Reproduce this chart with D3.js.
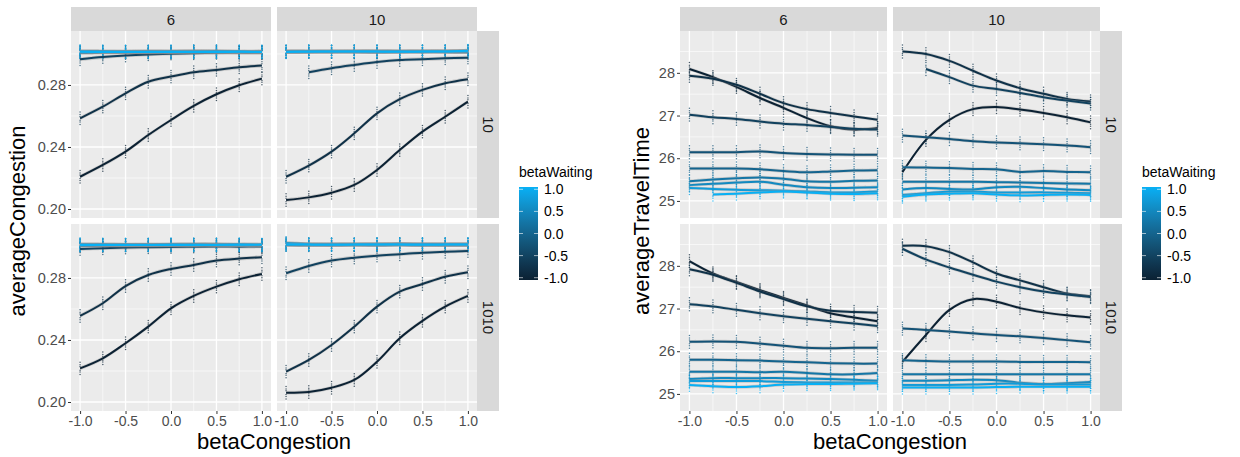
<!DOCTYPE html>
<html>
<head>
<meta charset="utf-8">
<script src="https://cdn.jsdelivr.net/npm/d3@7"></script>
<style>
  body { margin: 0; background: #fff; }
  svg text { font-family: "Liberation Sans", Arial, sans-serif; }
</style>
</head>
<body>
<div id="chart"></div>
<script>
// x positions (betaCongestion) and groups (betaWaiting)
const xValues = [-1, -0.75, -0.5, -0.25, 0, 0.25, 0.5, 0.75, 1];
const betaWaiting = [-1, -0.75, -0.5, -0.25, 0, 0.25, 0.5, 0.75, 1];
const colLabels = ['6', '10'];
const rowLabels = ['10', '1010'];
const xTicks = [-1, -0.5, 0, 0.5, 1];
const xMinor = [-0.75, -0.25, 0.25, 0.75];
const congestionTicks = [0.20, 0.24, 0.28];
const congestionMinor = [0.22, 0.26, 0.30];
const travelTicks = [25, 26, 27, 28];
const travelMinor = [25.5, 26.5, 27.5, 28.5];
const legendBreaks = [1, 0.5, 0, -0.5, -1];
// vertical scatter of the raw runs around each smooth, as fractions of the spread
const spreadOffsets = [-1, -0.6, -0.3, 0.3, 0.6, 1];

// averageCongestion, one row per betaWaiting (-1 ... 1)
const congestionR10C6 = [
  [0.2208, 0.2284, 0.2370, 0.2477, 0.2574, 0.2665, 0.2740, 0.2798, 0.2841],
  [0.2585, 0.2660, 0.2746, 0.2821, 0.2854, 0.2882, 0.2897, 0.2914, 0.2925],
  [0.2966, 0.2980, 0.2990, 0.2997, 0.3002, 0.3005, 0.3007, 0.3008, 0.3009],
  [0.3007, 0.3009, 0.3010, 0.3009, 0.3009, 0.3011, 0.3010, 0.3009, 0.3009],
  [0.3012, 0.3013, 0.3012, 0.3013, 0.3012, 0.3014, 0.3015, 0.3012, 0.3012],
  [0.3016, 0.3015, 0.3014, 0.3016, 0.3015, 0.3018, 0.3017, 0.3014, 0.3015],
  [0.3010, 0.3012, 0.3014, 0.3016, 0.3015, 0.3016, 0.3013, 0.3012, 0.3016],
  [0.3018, 0.3017, 0.3016, 0.3015, 0.3017, 0.3016, 0.3018, 0.3017, 0.3014],
  [0.3014, 0.3012, 0.3013, 0.3012, 0.3013, 0.3013, 0.3012, 0.3014, 0.3012]
];
const congestionR10C10 = [
  [0.2058, 0.2075, 0.2105, 0.2155, 0.2252, 0.2380, 0.2499, 0.2595, 0.2692],
  [0.2208, 0.2280, 0.2370, 0.2488, 0.2617, 0.2708, 0.2768, 0.2811, 0.2837],
  [null,   0.2882, 0.2908, 0.2929, 0.2948, 0.2961, 0.2966, 0.2972, 0.2976],
  [0.3011, 0.3012, 0.3013, 0.3012, 0.3011, 0.3012, 0.3013, 0.3012, 0.3011],
  [0.3015, 0.3014, 0.3013, 0.3015, 0.3014, 0.3015, 0.3016, 0.3015, 0.3014],
  [0.3018, 0.3017, 0.3016, 0.3017, 0.3018, 0.3017, 0.3018, 0.3019, 0.3020],
  [0.3014, 0.3015, 0.3016, 0.3017, 0.3016, 0.3015, 0.3014, 0.3016, 0.3018],
  [0.3016, 0.3017, 0.3016, 0.3015, 0.3016, 0.3017, 0.3016, 0.3015, 0.3016],
  [0.3013, 0.3014, 0.3015, 0.3016, 0.3015, 0.3014, 0.3015, 0.3016, 0.3021]
];
const congestionR1010C6 = [
  [0.2217, 0.2282, 0.2379, 0.2486, 0.2604, 0.2684, 0.2744, 0.2792, 0.2826],
  [0.2555, 0.2637, 0.2748, 0.2819, 0.2858, 0.2884, 0.2912, 0.2925, 0.2934],
  [0.2987, 0.2992, 0.2996, 0.2998, 0.3000, 0.3002, 0.3003, 0.3002, 0.3003],
  [0.3007, 0.3008, 0.3009, 0.3009, 0.3008, 0.3009, 0.3010, 0.3009, 0.3008],
  [0.3012, 0.3011, 0.3012, 0.3013, 0.3012, 0.3014, 0.3016, 0.3012, 0.3011],
  [0.3016, 0.3015, 0.3014, 0.3016, 0.3014, 0.3015, 0.3016, 0.3014, 0.3015],
  [0.3010, 0.3012, 0.3014, 0.3013, 0.3015, 0.3016, 0.3012, 0.3011, 0.3013],
  [0.3017, 0.3016, 0.3015, 0.3014, 0.3017, 0.3016, 0.3015, 0.3017, 0.3013],
  [0.3013, 0.3012, 0.3013, 0.3012, 0.3013, 0.3012, 0.3013, 0.3014, 0.3015]
];
const congestionR1010C10 = [
  [0.2060, 0.2065, 0.2092, 0.2142, 0.2260, 0.2411, 0.2523, 0.2615, 0.2684],
  [0.2196, 0.2271, 0.2368, 0.2486, 0.2615, 0.2712, 0.2761, 0.2808, 0.2837],
  [0.2830, 0.2877, 0.2912, 0.2931, 0.2944, 0.2953, 0.2963, 0.2969, 0.2974],
  [0.3012, 0.3011, 0.3011, 0.3012, 0.3011, 0.3012, 0.3011, 0.3011, 0.3011],
  [0.3018, 0.3016, 0.3015, 0.3016, 0.3017, 0.3018, 0.3016, 0.3015, 0.3015],
  [0.3023, 0.3019, 0.3017, 0.3016, 0.3017, 0.3020, 0.3018, 0.3017, 0.3017],
  [0.3012, 0.3014, 0.3016, 0.3017, 0.3016, 0.3016, 0.3015, 0.3017, 0.3017],
  [0.3025, 0.3018, 0.3016, 0.3015, 0.3016, 0.3018, 0.3019, 0.3017, 0.3016],
  [0.3016, 0.3015, 0.3014, 0.3015, 0.3016, 0.3015, 0.3014, 0.3015, 0.3016]
];

// averageTravelTime, one row per betaWaiting (-1 ... 1)
const travelR10C6 = [
  [28.09, 27.90, 27.67, 27.41, 27.18, 26.94, 26.75, 26.67, 26.71],
  [27.93, 27.86, 27.72, 27.51, 27.29, 27.15, 27.06, 26.98, 26.90],
  [27.02, 26.96, 26.92, 26.86, 26.81, 26.78, 26.73, 26.69, 26.67],
  [26.14, 26.14, 26.14, 26.16, 26.12, 26.10, 26.09, 26.08, 26.08],
  [25.76, 25.76, 25.76, 25.74, 25.70, 25.67, 25.69, 25.71, 25.72],
  [25.46, 25.50, 25.53, 25.55, 25.52, 25.46, 25.45, 25.47, 25.48],
  [25.37, 25.40, 25.43, 25.45, 25.38, 25.32, 25.30, 25.31, 25.32],
  [25.30, 25.28, 25.26, 25.25, 25.24, 25.22, 25.20, 25.20, 25.22],
  [null,  25.15, 25.17, 25.20, 25.22, 25.20, 25.17, 25.16, 25.18]
];
const travelR10C10 = [
  [25.67, 26.43, 26.90, 27.15, 27.20, 27.14, 27.06, 26.96, 26.84],
  [28.50, 28.44, 28.28, 28.05, 27.82, 27.64, 27.51, 27.39, 27.33],
  [null,  28.09, 27.90, 27.70, 27.62, 27.53, 27.43, 27.35, 27.28],
  [26.53, 26.49, 26.45, 26.40, 26.37, 26.35, 26.33, 26.30, 26.26],
  [25.79, 25.78, 25.77, 25.75, 25.74, 25.68, 25.70, 25.68, 25.67],
  [25.45, 25.45, 25.45, 25.45, 25.44, 25.43, 25.42, 25.41, 25.40],
  [25.27, 25.30, 25.28, 25.27, 25.32, 25.33, 25.30, 25.27, 25.25],
  [25.14, 25.18, 25.22, 25.22, 25.20, 25.20, 25.20, 25.19, 25.18],
  [25.10, 25.15, 25.17, 25.18, 25.15, 25.13, 25.14, 25.15, 25.14]
];
const travelR1010C6 = [
  [28.11, 27.82, 27.62, 27.43, 27.25, 27.07, 26.89, 26.79, 26.70],
  [27.92, 27.79, 27.60, 27.40, 27.22, 27.05, 26.95, 26.92, 26.90],
  [27.10, 27.05, 26.97, 26.89, 26.82, 26.76, 26.70, 26.65, 26.59],
  [26.22, 26.23, 26.22, 26.18, 26.13, 26.08, 26.07, 26.08, 26.08],
  [25.80, 25.80, 25.79, 25.78, 25.76, 25.74, 25.72, 25.71, 25.71],
  [25.52, 25.52, 25.52, 25.51, 25.52, 25.49, 25.46, 25.46, 25.49],
  [25.35, 25.37, 25.37, 25.37, 25.37, 25.36, 25.35, 25.33, 25.31],
  [25.30, 25.30, 25.30, 25.30, 25.28, 25.27, 25.27, 25.27, 25.27],
  [25.21, 25.18, 25.16, 25.18, 25.22, 25.23, 25.23, 25.24, 25.25]
];
const travelR1010C10 = [
  [25.75, 26.38, 26.97, 27.22, 27.16, 27.01, 26.91, 26.84, 26.79],
  [28.47, 28.46, 28.32, 28.08, 27.82, 27.66, 27.50, 27.35, 27.29],
  [28.40, 28.15, 27.96, 27.79, 27.63, 27.50, 27.40, 27.33, 27.27],
  [26.53, 26.50, 26.46, 26.42, 26.38, 26.35, 26.31, 26.26, 26.21],
  [25.79, 25.77, 25.76, 25.76, 25.76, 25.75, 25.75, 25.75, 25.74],
  [25.46, 25.46, 25.46, 25.46, 25.46, 25.46, 25.46, 25.46, 25.46],
  [25.31, 25.31, 25.32, 25.33, 25.32, 25.26, 25.23, 25.25, 25.28],
  [25.21, 25.21, 25.21, 25.22, 25.24, 25.24, 25.22, 25.22, 25.22],
  [25.15, 25.15, 25.15, 25.15, 25.16, 25.17, 25.17, 25.17, 25.17]
];

const W = 1240, H = 457;
const svg = d3.select('#chart').append('svg')
  .attr('width', W).attr('height', H);

const color = d3.scaleLinear().domain([-1, 1])
  .range(['#0B2133', '#07B0F5'])
  .interpolate(d3.interpolateLab);

// gradient for both colour bars
const grad = svg.append('defs').append('linearGradient')
  .attr('id', 'bwGrad').attr('x1', 0).attr('y1', 1).attr('x2', 0).attr('y2', 0);
d3.range(0, 1.0001, 0.1).forEach(t => {
  grad.append('stop').attr('offset', t).attr('stop-color', color(-1 + 2 * t));
});

function drawChart(cfg) {
  const x = d3.scaleLinear().domain([-1.1, 1.1]).range([0, cfg.panelW]);
  const y = d3.scaleLinear().domain(cfg.yDomain).range([cfg.panelH, 0]);

  const line = d3.line()
    .defined(d => d.v != null)
    .x(d => x(d.x)).y(d => y(d.v))
    .curve(d3.curveCatmullRom.alpha(0.5));
  const band = d3.area()
    .defined(d => d.v != null)
    .x(d => x(d.x)).y0(d => y(d.v - cfg.se)).y1(d => y(d.v + cfg.se))
    .curve(d3.curveCatmullRom.alpha(0.5));

  cfg.facets.forEach((row, r) => row.forEach((groups, c) => {
    const g = svg.append('g')
      .attr('transform', `translate(${cfg.panelX[c]},${cfg.panelY[r]})`);

    g.append('rect').attr('width', cfg.panelW).attr('height', cfg.panelH).attr('fill', '#EBEBEB');

    // grid
    g.selectAll('.ym').data(cfg.yMinor).join('line')
      .attr('x1', 0).attr('x2', cfg.panelW).attr('y1', d => y(d)).attr('y2', d => y(d))
      .attr('stroke', '#fff').attr('stroke-width', 0.6);
    g.selectAll('.xm').data(xMinor).join('line')
      .attr('y1', 0).attr('y2', cfg.panelH).attr('x1', d => x(d)).attr('x2', d => x(d))
      .attr('stroke', '#fff').attr('stroke-width', 0.6);
    g.selectAll('.yM').data(cfg.yTicks).join('line')
      .attr('x1', 0).attr('x2', cfg.panelW).attr('y1', d => y(d)).attr('y2', d => y(d))
      .attr('stroke', '#fff').attr('stroke-width', 1.3);
    g.selectAll('.xM').data(xTicks).join('line')
      .attr('y1', 0).attr('y2', cfg.panelH).attr('x1', d => x(d)).attr('x2', d => x(d))
      .attr('stroke', '#fff').attr('stroke-width', 1.3);

    const series = groups.map((vals, i) => ({
      bw: betaWaiting[i],
      pts: vals.map((v, j) => ({ x: xValues[j], v: v }))
    }));

    // raw runs
    series.forEach(s => {
      s.pts.filter(p => p.v != null).forEach(p => {
        g.selectAll(null).data(spreadOffsets).join('circle')
          .attr('cx', x(p.x))
          .attr('cy', o => y(p.v + o * cfg.spread))
          .attr('r', 0.75)
          .attr('fill', color(s.bw))
          .attr('opacity', 0.75);
      });
    });

    // smooths with confidence band
    series.forEach(s => {
      g.append('path').datum(s.pts).attr('d', band)
        .attr('fill', '#999999').attr('opacity', 0.4);
      g.append('path').datum(s.pts).attr('d', line)
        .attr('fill', 'none').attr('stroke', color(s.bw)).attr('stroke-width', 2);
    });

    // top strips
    if (r === 0) {
      svg.append('rect')
        .attr('x', cfg.panelX[c]).attr('y', cfg.panelY[0] - 24)
        .attr('width', cfg.panelW).attr('height', 24).attr('fill', '#D9D9D9');
      svg.append('text')
        .attr('x', cfg.panelX[c] + cfg.panelW / 2).attr('y', cfg.panelY[0] - 12)
        .attr('text-anchor', 'middle').attr('dominant-baseline', 'central')
        .attr('font-size', 15).attr('fill', '#1A1A1A').text(colLabels[c]);
    }
    // right strips
    if (c === 1) {
      const sx = cfg.panelX[1] + cfg.panelW;
      svg.append('rect')
        .attr('x', sx).attr('y', cfg.panelY[r])
        .attr('width', 22).attr('height', cfg.panelH).attr('fill', '#D9D9D9');
      svg.append('text')
        .attr('transform', `translate(${sx + 11},${cfg.panelY[r] + cfg.panelH / 2}) rotate(90)`)
        .attr('text-anchor', 'middle').attr('dominant-baseline', 'central')
        .attr('font-size', 15).attr('fill', '#1A1A1A').text(rowLabels[r]);
    }
    // y axis
    if (c === 0) {
      const ya = svg.append('g')
        .attr('transform', `translate(${cfg.panelX[0]},${cfg.panelY[r]})`)
        .call(d3.axisLeft(y).tickValues(cfg.yTicks).tickFormat(cfg.yFormat).tickSize(3).tickPadding(2));
      ya.select('.domain').remove();
      ya.selectAll('line').attr('stroke', '#333');
      ya.selectAll('text').attr('font-size', 14.5).attr('fill', '#4D4D4D')
        .attr('font-family', '"Liberation Sans", Arial, sans-serif');
    }
    // x axis
    if (r === 1) {
      const xa = svg.append('g')
        .attr('transform', `translate(${cfg.panelX[c]},${cfg.panelY[1] + cfg.panelH})`)
        .call(d3.axisBottom(x).tickValues(xTicks).tickFormat(d => d.toFixed(1)).tickSize(3).tickPadding(2));
      xa.select('.domain').remove();
      xa.selectAll('line').attr('stroke', '#333');
      xa.selectAll('text').attr('font-size', 14).attr('fill', '#4D4D4D')
        .attr('font-family', '"Liberation Sans", Arial, sans-serif');
    }
  }));

  // axis titles
  svg.append('text')
    .attr('transform', `translate(${cfg.yTitleX},${(cfg.panelY[0] + cfg.panelY[1] + cfg.panelH) / 2}) rotate(-90)`)
    .attr('text-anchor', 'middle').attr('font-size', 22).attr('fill', '#000').text(cfg.yTitle);
  svg.append('text')
    .attr('x', (cfg.panelX[0] + cfg.panelX[1] + cfg.panelW) / 2).attr('y', 449)
    .attr('text-anchor', 'middle').attr('font-size', 22).attr('fill', '#000').text('betaCongestion');

  // legend
  const lg = svg.append('g').attr('transform', `translate(${cfg.legendX},187)`);
  const barH = 93, barW = 19;
  const ly = d3.scaleLinear().domain([-1, 1]).range([barH - 2.3, 2.3]);
  lg.append('text').attr('x', 0).attr('y', -10).attr('font-size', 14).attr('fill', '#000').text('betaWaiting');
  lg.append('rect').attr('width', barW).attr('height', barH).attr('fill', 'url(#bwGrad)');
  lg.selectAll('.tl').data(legendBreaks).join('line')
    .attr('x1', 0).attr('x2', 4).attr('y1', d => ly(d)).attr('y2', d => ly(d))
    .attr('stroke', '#fff').attr('stroke-opacity', 0.6);
  lg.selectAll('.tr').data(legendBreaks).join('line')
    .attr('x1', barW - 4).attr('x2', barW).attr('y1', d => ly(d)).attr('y2', d => ly(d))
    .attr('stroke', '#fff').attr('stroke-opacity', 0.6);
  lg.selectAll('.lab').data(legendBreaks).join('text')
    .attr('x', barW + 6).attr('y', d => ly(d)).attr('dominant-baseline', 'central')
    .attr('font-size', 14).attr('fill', '#000').text(d => d.toFixed(1));
}

drawChart({
  facets: [[congestionR10C6, congestionR10C10], [congestionR1010C6, congestionR1010C10]],
  panelX: [71, 277], panelY: [31, 224], panelW: 200, panelH: 187,
  yDomain: [0.1942, 0.3148], yTicks: congestionTicks, yMinor: congestionMinor,
  yFormat: d3.format('.2f'), se: 0.0012, spread: 0.004,
  yTitle: 'averageCongestion', yTitleX: 25, legendX: 519
});

drawChart({
  facets: [[travelR10C6, travelR10C10], [travelR1010C6, travelR1010C10]],
  panelX: [680, 893], panelY: [31, 224], panelW: 207, panelH: 187,
  yDomain: [24.6, 28.98], yTicks: travelTicks, yMinor: travelMinor,
  yFormat: d3.format('d'), se: 0.04, spread: 0.15,
  yTitle: 'averageTravelTime', yTitleX: 649, legendX: 1142
});
</script>
</body>
</html>
